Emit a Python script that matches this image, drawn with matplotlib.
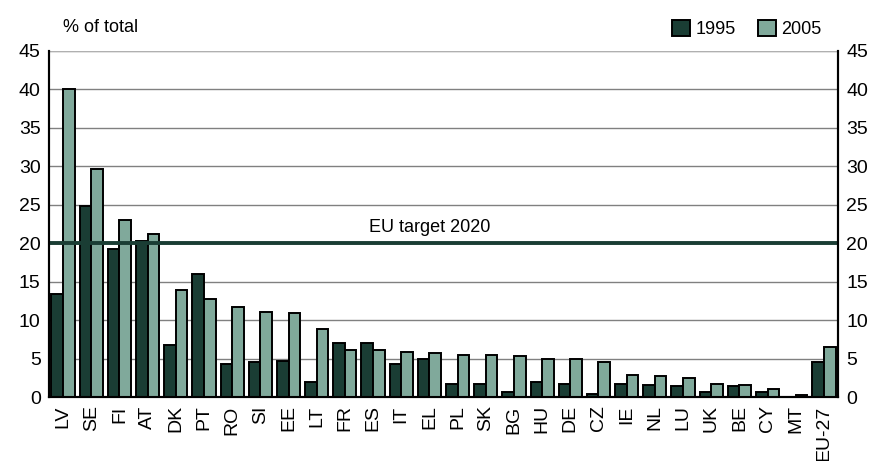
import matplotlib
matplotlib.use("Agg")
import numpy as np
import matplotlib.pyplot as plt

plt.rcParams['font.family'] = ['Liberation Sans', 'DejaVu Sans']

countries = ["LV", "SE", "FI", "AT", "DK", "PT", "RO", "SI", "EE", "LT", "FR", "ES", "IT", "EL",
             "PL", "SK", "BG", "HU", "DE", "CZ", "IE", "NL", "LU", "UK", "BE", "CY", "MT", "EU-27"]
y1995 = [13.4, 24.9, 19.3, 20.3, 6.8, 16.0, 4.3, 4.6, 4.7, 2.0, 7.0, 7.0, 4.3, 5.0,
         1.7, 1.7, 0.65, 1.9, 1.7, 0.35, 1.7, 1.5, 1.4, 0.6, 1.4, 0.7, 0.0, 4.5]
y2005 = [40.0, 29.7, 23.0, 21.2, 13.9, 12.8, 11.7, 11.1, 10.9, 8.9, 6.1, 6.1, 5.85, 5.7,
         5.4, 5.4, 5.3, 5.0, 4.9, 4.5, 2.8, 2.75, 2.5, 1.7, 1.5, 1.1, 0.3, 6.5]
target = 20

dark = "#1a3d34"
light = "#80a99b"

fig = plt.figure(figsize=(8.79, 4.61), dpi=100)
ax = fig.add_axes([0.0557, 0.1388, 0.8977, 0.7506])

x = np.arange(len(countries))
w = 0.41
ax.bar(x - w / 2, y1995, w, color=dark, edgecolor="black", linewidth=1.4, label="1995", zorder=3)
ax.bar(x + w / 2, y2005, w, color=light, edgecolor="black", linewidth=1.4, label="2005", zorder=3)

ax.axhline(target, color=dark, linewidth=2.8, zorder=4)
ax.text(13.0, target + 1.0, "EU target 2020", ha="center", va="bottom", fontsize=13)

ax.set_xlim(-0.5, len(countries) - 0.5)
ax.set_ylim(0, 45)
ax.set_yticks(range(0, 46, 5))
ax.yaxis.grid(True, color="#808080", linewidth=1)
ax.set_axisbelow(True)
ax.tick_params(axis="both", length=0, labelsize=14, pad=6)
ax.set_xticks(x)
ax.set_xticklabels(countries, rotation=90)

ax2 = ax.twinx()
ax2.set_ylim(0, 45)
ax2.set_yticks(range(0, 46, 5))
ax2.tick_params(axis="y", length=0, labelsize=14, pad=6)

for a in (ax, ax2):
    a.spines["top"].set_visible(False)
    a.spines["left"].set_linewidth(1.5)
    a.spines["right"].set_linewidth(1.5)
    a.spines["bottom"].set_linewidth(1.5)
ax.axhline(45, color="#b0b0b0", linewidth=1.5, zorder=2)

fig.text(0.072, 0.94, "% of total", fontsize=13, va="center")
ax.legend(loc="lower right", bbox_to_anchor=(0.995, 1.0), ncol=2, frameon=False, fontsize=13,
          handlelength=1.0, handleheight=1.0, handletextpad=0.3, columnspacing=1.2, borderpad=0.2)

fig.savefig("out.png", dpi=100)
